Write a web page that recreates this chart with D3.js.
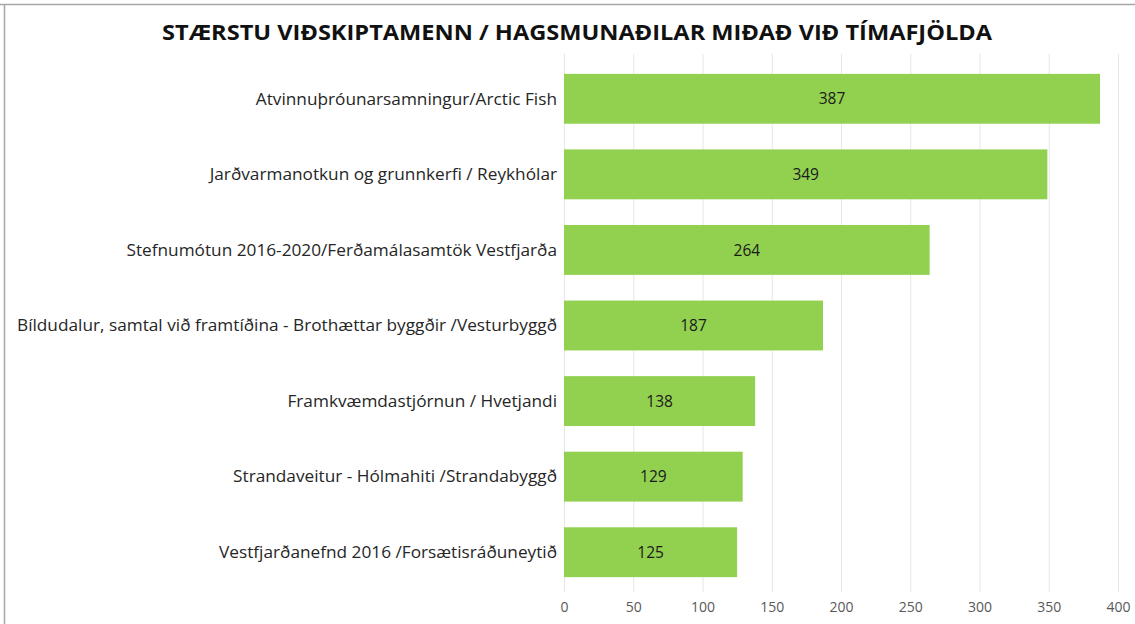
<!DOCTYPE html>
<html><head><meta charset="utf-8">
<script src="https://cdn.jsdelivr.net/npm/d3@7"></script>
<style>body{margin:0;background:#fff;} svg{display:block;}</style>
</head><body>
<svg id="c" width="1135" height="624"></svg>
<script>
const categories = [
  "Atvinnuþróunarsamningur/Arctic Fish",
  "Jarðvarmanotkun og grunnkerfi / Reykhólar",
  "Stefnumótun 2016-2020/Ferðamálasamtök Vestfjarða",
  "Bíldudalur, samtal við framtíðina - Brothættar byggðir /Vesturbyggð",
  "Framkvæmdastjórnun / Hvetjandi",
  "Strandaveitur - Hólmahiti /Strandabyggð",
  "Vestfjarðanefnd 2016 /Forsætisráðuneytið"
];
const values = [387, 349, 264, 187, 138, 129, 125];
const ticks = [0, 50, 100, 150, 200, 250, 300, 350, 400];
const title = "STÆRSTU VIÐSKIPTAMENN / HAGSMUNAÐILAR MIÐAÐ VIÐ TÍMAFJÖLDA";

const svg = d3.select("#c");
const font = "'Open Sans', 'Noto Sans', sans-serif";

// frame
svg.append("line").attr("x1",0).attr("x2",1135).attr("y1",4.5).attr("y2",4.5).attr("stroke","#a6a6a6").attr("stroke-width",1.5);
svg.append("line").attr("x1",4.5).attr("x2",4.5).attr("y1",4).attr("y2",624).attr("stroke","#a6a6a6").attr("stroke-width",1.5);

const x = d3.scaleLinear().domain([0,400]).range([564,1118]);
const y = d3.scaleBand().domain(categories).range([61,590]).paddingInner(0.34).paddingOuter(0.17);

// gridlines
svg.append("g").selectAll("line").data(ticks).join("line")
  .attr("x1",d=>x(d)+0.5).attr("x2",d=>x(d)+0.5).attr("y1",54).attr("y2",592)
  .attr("stroke","#e6e6e6").attr("stroke-width",1);

// title
svg.append("text").attr("x",577).attr("y",40).attr("text-anchor","middle")
  .attr("font-family",font).attr("font-weight","bold").attr("font-size",21)
  .attr("fill","#111").attr("textLength",830).attr("lengthAdjust","spacingAndGlyphs").text(title);

// bars
svg.append("g").selectAll("rect").data(values).join("rect")
  .attr("x",x(0)).attr("y",(d,i)=>y(categories[i]))
  .attr("width",d=>x(d)-x(0)).attr("height",y.bandwidth())
  .attr("fill","#92d050");

// value labels
svg.append("g").selectAll("text").data(values).join("text")
  .attr("x",d=>(x(0)+x(d))/2).attr("y",(d,i)=>y(categories[i])+y.bandwidth()/2)
  .attr("dy","0.36em").attr("text-anchor","middle")
  .attr("font-family",font).attr("font-size",15.5).attr("fill","#1a1a1a").text(d=>d);

// category labels
const lab = svg.append("g").selectAll("text").data(categories).join("text")
  .attr("x",557).attr("y",d=>y(d)+y.bandwidth()/2).attr("dy","0.36em")
  .attr("text-anchor","end").attr("font-family",font).attr("font-size",16)
  .attr("fill","#262626").text(d=>d);
const ratio = 540 / lab.nodes()[3].getComputedTextLength();
lab.each(function(){ const w=this.getComputedTextLength(); d3.select(this).attr("textLength",w*ratio).attr("lengthAdjust","spacingAndGlyphs"); });

// x axis
const ax = svg.append("g").attr("transform","translate(0,592)")
  .call(d3.axisBottom(x).tickValues(ticks).tickSize(0).tickPadding(10));
ax.select(".domain").remove();
ax.selectAll("text").attr("font-family",font).attr("font-size",14).attr("fill","#595959");
</script>
</body></html>
